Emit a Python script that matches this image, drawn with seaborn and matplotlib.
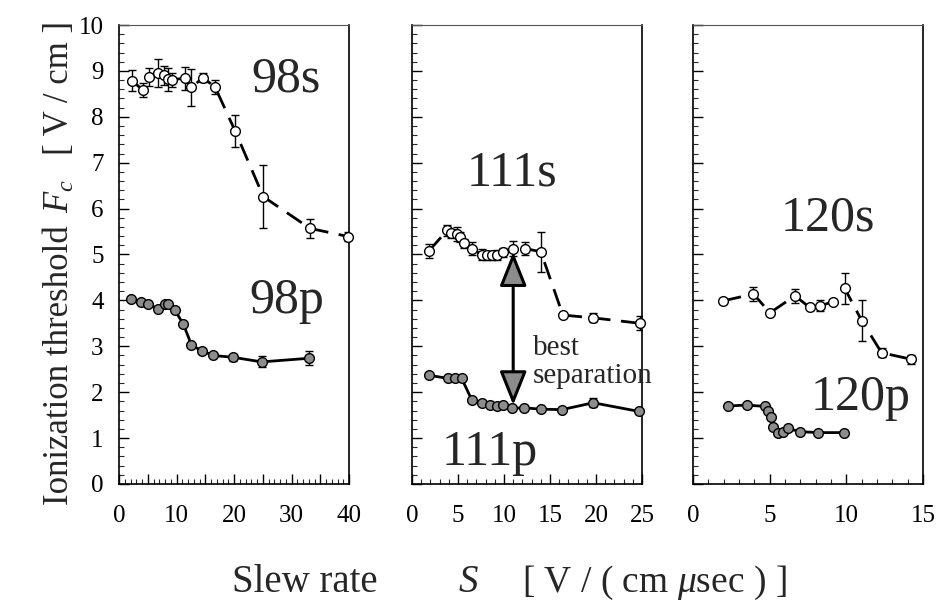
import matplotlib
matplotlib.use("Agg")
import matplotlib.pyplot as plt
import seaborn as sns
import numpy as np
from matplotlib.ticker import MultipleLocator, FuncFormatter

# ---------------- data ----------------
# panel 1 (98)
x98s = [2.2, 4.2, 5.3, 6.8, 7.9, 8.6, 9.3, 11.4, 12.6, 14.6, 16.7, 20.2, 25.1, 33.2, 39.9]
y98s = [8.79, 8.58, 8.87, 8.95, 8.90, 8.82, 8.81, 8.84, 8.64, 8.85, 8.65, 7.69, 6.26, 5.57, 5.39]
e98s = [0.22, 0.15, 0.2, 0.3, 0.2, 0.25, 0.15, 0.25, 0.4, 0.1, 0.15, 0.35, 0.68, 0.2, 0.1]
x98p = [2.1, 3.9, 5.1, 6.8, 8.0, 8.6, 9.7, 11.2, 12.6, 14.4, 16.4, 19.9, 24.8, 33.1]
y98p = [4.03, 3.96, 3.92, 3.81, 3.92, 3.93, 3.79, 3.48, 3.03, 2.90, 2.80, 2.76, 2.66, 2.74]
e98p = [0, 0, 0, 0, 0, 0, 0, 0, 0, 0, 0, 0.08, 0.12, 0.15]
# panel 2 (111)
x111s = [1.85, 3.84, 4.2, 4.86, 5.2, 5.7, 6.55, 7.6, 8.1, 8.66, 9.2, 9.9, 11.0, 12.3, 14.0, 16.4, 19.7, 24.8]
y111s = [5.08, 5.53, 5.46, 5.45, 5.38, 5.24, 5.13, 4.99, 4.98, 4.98, 4.99, 5.05, 5.13, 5.13, 5.06, 3.68, 3.62, 3.50]
e111s = [0.15, 0.12, 0.1, 0.15, 0.1, 0.1, 0.15, 0.12, 0.1, 0.1, 0.1, 0.1, 0.17, 0.15, 0.44, 0.05, 0.1, 0.15]
x111p = [1.8, 3.95, 4.7, 5.4, 6.5, 7.6, 8.5, 9.2, 9.9, 10.85, 12.2, 14.0, 16.3, 19.7, 24.7]
y111p = [2.37, 2.30, 2.30, 2.30, 1.83, 1.76, 1.72, 1.69, 1.72, 1.65, 1.66, 1.63, 1.62, 1.77, 1.58]
e111p = [0, 0, 0, 0, 0, 0, 0, 0, 0, 0, 0, 0, 0, 0.1, 0]
# panel 3 (120)
x120s = [1.98, 3.94, 5.02, 6.65, 7.6, 8.3, 9.1, 9.9, 11.0, 12.3, 14.2]
y120s = [3.99, 4.14, 3.73, 4.10, 3.85, 3.88, 3.97, 4.26, 3.56, 2.86, 2.72]
e120s = [0.05, 0.15, 0.05, 0.15, 0.05, 0.12, 0.05, 0.33, 0.45, 0.1, 0.1]
x120p = [2.3, 3.5, 4.7, 4.9, 5.1, 5.24, 5.57, 5.9, 6.2, 6.98, 8.17, 9.85]
y120p = [1.70, 1.72, 1.69, 1.58, 1.45, 1.25, 1.12, 1.14, 1.21, 1.14, 1.12, 1.12]
e120p = [0] * 12

xlims = [40, 25, 15]
xlabel_steps = [10, 5, 5]
labels_s = ["98s", "111s", "120s"]
labels_p = ["98p", "111p", "120p"]
label_s_pos = [(29.0, 8.56), (10.9, 6.51), (8.77, 5.53)]
label_p_pos = [(29.2, 3.73), (8.5, 0.41), (10.9, 1.61)]

# ---------------- style ----------------
sns.set_style("ticks")
plt.rcParams["font.family"] = ["Liberation Serif", "DejaVu Serif"]
plt.rcParams["mathtext.fontset"] = "custom"
plt.rcParams["mathtext.rm"] = "Liberation Serif"
plt.rcParams["mathtext.it"] = "Liberation Serif:italic"

fig = plt.figure(figsize=(9.36, 6.02), dpi=100)
lefts = [119, 412, 693]
axes = [fig.add_axes([l / 936, 1 - 484 / 602, 230 / 936, 459 / 602]) for l in lefts]

series = [
    (x98s, y98s, e98s, x98p, y98p, e98p),
    (x111s, y111s, e111s, x111p, y111p, e111p),
    (x120s, y120s, e120s, x120p, y120p, e120p),
]

for i, ax in enumerate(axes):
    xs, ys, es, xp, yp, ep = series[i]
    # s series: dashed line, open circles
    ax.errorbar(xs, ys, yerr=es, fmt="none", ecolor="black", elinewidth=1.0,
                capsize=3, capthick=1.0, zorder=2)
    sns.lineplot(x=xs, y=ys, ax=ax, sort=False, color="black", lw=2.0,
                 linestyle=(0, (6.5, 3.8)), marker="o", markersize=7,
                 markerfacecolor="white", markeredgecolor="black",
                 markeredgewidth=1.0, zorder=3, clip_on=False)
    # p series: solid line, gray filled circles
    ax.errorbar(xp, yp, yerr=ep, fmt="none", ecolor="black", elinewidth=1.0,
                capsize=3, capthick=1.0, zorder=2)
    sns.lineplot(x=xp, y=yp, ax=ax, sort=False, color="black", lw=2.0,
                 marker="o", markersize=7, markerfacecolor="#8c8c8c",
                 markeredgecolor="black", markeredgewidth=1.0, zorder=3,
                 clip_on=False)

    ax.set_xlim(0, xlims[i])
    ax.set_ylim(0, 10)
    ax.xaxis.set_major_locator(MultipleLocator(5))
    ax.xaxis.set_minor_locator(MultipleLocator(1))
    ax.yaxis.set_major_locator(MultipleLocator(1))
    ax.yaxis.set_minor_locator(MultipleLocator(0.2))
    step = xlabel_steps[i]
    ax.xaxis.set_major_formatter(FuncFormatter(
        lambda v, p, s=step: f"{int(round(v))}" if abs(v / s - round(v / s)) < 1e-6 else ""))
    ax.tick_params(axis="both", which="major", direction="in", length=7, width=1.0,
                   labelsize=18, colors="black")
    ax.tick_params(axis="both", which="minor", direction="in", length=3.5, width=0.8)
    ax.tick_params(axis="x", which="major", pad=15)
    ax.tick_params(axis="y", which="major", pad=11)
    if i > 0:
        ax.tick_params(axis="y", which="both", labelleft=False)
    for sp in ax.spines.values():
        sp.set_visible(True)
        sp.set_color("black")
        sp.set_linewidth(1.2)
    ax.spines["top"].set_linewidth(0.8)
    ax.spines["top"].set_color("#555555")
    ax.set_xlabel("")
    ax.set_ylabel("")

    tx, ty = label_s_pos[i]
    ax.text(tx, ty, labels_s[i], fontsize=36, ha="center", va="baseline")
    tx, ty = label_p_pos[i]
    ax.text(tx, ty, labels_p[i], fontsize=36, ha="center", va="baseline")

# best separation arrow
axes[1].annotate("", xy=(11.0, 1.72), xytext=(11.0, 5.05),
                 arrowprops=dict(arrowstyle="<|-|>,head_length=1.05,head_width=0.42",
                                 mutation_scale=20, fc="#8c8c8c", ec="black", lw=2.2,
                                 shrinkA=0, shrinkB=0), zorder=4)
axes[1].text(13.15, 2.81, "best", fontsize=21, ha="left", va="baseline")
axes[1].text(13.15, 2.20, "separation", fontsize=21, ha="left", va="baseline")

# y-axis label (pieces placed to match spacing)
fig.text(60 / 936, 1 - 365 / 602, "Ionization threshold", rotation=90,
         ha="center", va="center", fontsize=25)
fig.text(60 / 936, 1 - 196 / 602, r"$F_c$", rotation=90,
         ha="center", va="center", fontsize=25)
fig.text(60 / 936, 1 - 88 / 602, "[ V / cm ]", rotation=90,
         ha="center", va="center", fontsize=25)
# x-axis label
fig.text(232 / 936, 1 - 583 / 602, "Slew rate", ha="left", va="center", fontsize=28)
fig.text(468 / 936, 1 - 583 / 602, r"$S$", ha="center", va="center", fontsize=28)
fig.text(522 / 936, 1 - 583 / 602, r"[ V / ( cm $\mu$sec ) ]", ha="left",
         va="center", fontsize=27)

fig.savefig("out.png", dpi=100)
